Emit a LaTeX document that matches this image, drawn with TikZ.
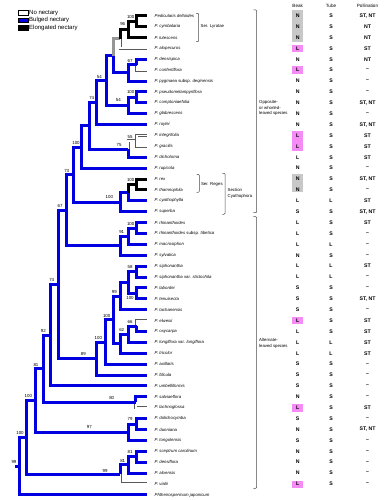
\documentclass[tikz,border=0pt]{standalone}
\usepackage{fontspec}
\setmainfont{Liberation Sans}
\usepackage{xcolor}
\usepackage{tikz}
\usetikzlibrary{positioning}

\definecolor{bulged}{RGB}{0,0,225}
\definecolor{stemgray}{RGB}{150,150,150}
\definecolor{pinkcell}{RGB}{245,140,245}
\definecolor{graycell}{RGB}{200,200,200}

\tikzset{
  br/.style={line width=3pt, bulged},
  elbr/.style={line width=3pt, black},
  grbr/.style={line width=3pt, stemgray},
  nobr/.style={draw=black!65, line width=0.55pt, double=white, double distance=1.9pt},
  taxon/.style={anchor=west, inner sep=0pt, font=\fontsize{4.3}{5}\selectfont\itshape},
  bs/.style={inner sep=0pt, font=\fontsize{4.4}{5}\selectfont},
  cell/.style={inner sep=0pt, font=\fontsize{5.2}{6}\selectfont\bfseries},
  head/.style={inner sep=0pt, font=\fontsize{4.6}{5}\selectfont},
  brk/.style={line width=0.5pt, black!70, rounded corners=1pt},
  brtext/.style={anchor=west, inner sep=0pt, align=left, font=\fontsize{4.3}{5.8}\selectfont},
  legbox/.style={draw=black, line width=0.4pt, minimum width=10pt, minimum height=4.5pt, inner sep=0pt},
  legtext/.style={anchor=west, inner sep=0.5pt, font=\fontsize{6}{7}\selectfont},
}

\begin{document}
\begin{tikzpicture}[x=1pt,y=-1pt]
    \useasboundingbox (0,0) rectangle (386,500);
    % Legend
    \node[legbox, fill=white] (lg1) at (23.3,12.8) {};
    \node[legbox, fill=bulged] (lg2) at (23.3,20.2) {};
    \node[legbox, fill=black] (lg3) at (23.3,27.6) {};
    \node[legtext, right=0pt of lg1] (lt1) {No nectary};
    \node[legtext, right=0pt of lg2] (lt2) {Bulged nectary};
    \node[legtext, right=0pt of lg3] (lt3) {Elongated nectary};
    %
    % Column heads
    \node[head] (hbeak) at (297.7,6) {Beak};
    \node[head] (htube) at (331,6) {Tube};
    \node[head] (hpoll) at (367.5,6) {Pollination};
    %
    % Shaded cells
    \fill[graycell] (291.7,10.5) rectangle (302.7,42.3);
    \fill[graycell] (291.7,174.3) rectangle (302.7,192.3);
    \fill[pinkcell] (291.7,44.7) rectangle (302.7,52.1);
    \fill[pinkcell] (291.7,66.5) rectangle (302.7,73.8);
    \fill[pinkcell] (291.7,131) rectangle (302.7,150.7);
    \fill[pinkcell] (291.7,317) rectangle (302.7,324.3);
    \fill[pinkcell] (291.7,404.3) rectangle (302.7,411.5);
    \fill[pinkcell] (291.7,480.5) rectangle (302.7,487.6);
    %
    % Taxa and characters
    \foreach \i/\name/\bk/\tb/\pl in {
      1/Pedicularis deltoides/N/S/{ST, NT},
      2/P. cymbalaria/N/S/NT,
      3/P. lutescens/N/S/NT,
      4/P. alopecuros/L/S/ST,
      5/P. densispica/N/S/NT,
      6/P. confertiflora/L/S/--,
      7/{P. pygmaea \textup{subsp.} deqinensis}/N/S/--,
      8/P. pseudomelampyriflora/N/S/--,
      9/P. comptoniaefolia/N/S/{ST, NT},
      10/P. glabrescens/N/S/--,
      11/P. roylei/N/S/{ST, NT},
      12/P. integrifolia/L/S/ST,
      13/P. gracilis/L/S/ST,
      14/P. dichotoma/L/S/ST,
      15/P. rupicola/N/S/--,
      16/P. rex/N/S/{ST, NT},
      17/P. thamnophila/N/S/--,
      18/P. cyathophylla/L/L/ST,
      19/P. superba/S/S/{ST, NT},
      20/P. rhinanthoides/L/S/ST,
      21/{P. rhinanthoides \textup{subsp.} tibetica}/L/S/--,
      22/P. macrosiphon/L/L/--,
      23/P. sylvatica/N/S/--,
      24/P. siphonantha/L/L/ST,
      25/{P. siphonantha \textup{var.} stictochila}/L/L/--,
      26/P. labordei/S/S/--,
      27/P. tenuisecta/S/S/{ST, NT},
      28/P. tachanensis/S/S/--,
      29/P. elwesii/L/S/ST,
      30/P. oxycarpa/L/S/ST,
      31/{P. longiflora \textup{var.} longiflora}/L/L/ST,
      32/P. tricolor/L/L/ST,
      33/P. axillaris/S/S/--,
      34/P. filicula/S/S/--,
      35/P. umbelliformis/S/S/--,
      36/P. salviaeflora/N/S/--,
      37/P. lachnoglossa/L/S/ST,
      38/P. dolichocymba/S/S/--,
      39/P. dunniana/N/S/{ST, NT},
      40/P. tongolensis/S/S/--,
      41/P. sceptrum carolinum/N/S/--,
      42/P. densiflora/N/S/--,
      43/P. aloensis/N/S/--,
      44/P. vialii/L/S/--}{
      \coordinate (e\i) at (147,{15.7+(\i-1)*10.89});
      \node[taxon] (t\i) at (154.5,{15.7+(\i-1)*10.89}) {\name};
      \node[cell] (k\i) at (297.7,{15.7+(\i-1)*10.89}) {\bk};
      \node[cell] (u\i) at (331,{15.7+(\i-1)*10.89}) {\tb};
      \node[cell] (p\i) at (367.5,{15.7+(\i-1)*10.89}) {\pl};
    }
    \coordinate (e45) at (147,494.9);
    \node[taxon] (t45) at (154.5,494.9) {Phtheirospermum japonicum};
    %
    % Internal nodes
    \coordinate (A) at (136.7,21.1);
    \coordinate (B) at (128.3,29.3);
    \coordinate (C) at (120,38.8);
    \coordinate (E1) at (136.7,64.7);
    \coordinate (E) at (128.3,72.9);
    \coordinate (D) at (113.3,55.9);
    \coordinate (G1) at (136.7,97.4);
    \coordinate (G) at (128.3,105.6);
    \coordinate (F) at (106.7,80.7);
    \coordinate (H) at (96.7,102.7);
    \coordinate (I1) at (136.7,140.9);
    \coordinate (I2) at (128.3,149.1);
    \coordinate (J) at (89.3,125.9);
    \coordinate (K) at (81.7,147.0);
    \coordinate (L1) at (136.7,184.5);
    \coordinate (L2) at (128.3,192.7);
    \coordinate (L3) at (120,202.2);
    \coordinate (M) at (73.3,174.6);
    \coordinate (N1) at (136.7,228.1);
    \coordinate (N2) at (128.3,236.2);
    \coordinate (N3) at (120,245.7);
    \coordinate (O) at (66,210.2);
    \coordinate (P1) at (136.7,271.6);
    \coordinate (P2) at (136.7,293.4);
    \coordinate (P3) at (128.3,282.5);
    \coordinate (P4) at (120,296.1);
    \coordinate (Q1) at (136.7,326.1);
    \coordinate (Q2) at (128.3,334.2);
    \coordinate (Q3) at (120,343.8);
    \coordinate (R) at (113.3,319.9);
    \coordinate (S) at (105,342.0);
    \coordinate (T) at (96.7,358.6);
    \coordinate (U) at (58.3,284.4);
    \coordinate (V) at (50.7,335.2);
    \coordinate (W1) at (135.7,402.3);
    \coordinate (X) at (43.3,368.8);
    \coordinate (Y1) at (136.7,424.1);
    \coordinate (Y2) at (128.3,432.3);
    \coordinate (Z) at (35,400.5);
    \coordinate (AA1) at (136.7,456.7);
    \coordinate (AA2) at (128.3,464.9);
    \coordinate (AA3) at (120,474.4);
    \coordinate (BB) at (26.7,437.5);
    \coordinate (Root) at (19.3,466.2);
    \coordinate (base) at (15,466.2);
    %
    % No nectary
    \draw[nobr] (C) |- (e4);
    \draw[nobr] (E1) |- (e6);
    \draw[nobr] (I2) |- (I1);
    \draw[nobr] (I1) |- (e12) (I1) |- (e13);
    \draw[nobr] (Q1) |- (e29);
    \draw[nobr] (W1) |- (e37);
    \draw[nobr] (AA3) |- (e44);
    %
    % Bulged nectary
    \draw[br] (D) |- (E) (E) |- (E1) (E) |- (e7) (E1) |- (e5);
    \draw[br] (F) |- (D) (F) |- (G) (G) |- (G1) (G) |- (e10) (G1) |- (e8) (G1) |- (e9);
    \draw[br] (H) |- (F) (H) |- (e11) (J) |- (H) (J) |- (I2) (I2) |- (e14);
    \draw[br] (K) |- (J) (K) |- (e15) (M) |- (K) (M) |- (L3);
    \draw[br] (L3) |- (L2) (L3) |- (e19) (L2) |- (e18);
    \draw[br] (O) |- (M) (O) |- (N3) (N3) |- (N2) (N3) |- (e23) (N2) |- (N1) (N2) |- (e22) (N1) |- (e20) (N1) |- (e21);
    \draw[br] (U) |- (O) (U) |- (T) (T) |- (S) (T) |- (e34) (S) |- (R) (S) |- (e33);
    \draw[br] (R) |- (P4) (R) |- (Q3) (P4) |- (P3) (P4) |- (e28) (P3) |- (P1) (P3) |- (P2);
    \draw[br] (P1) |- (e24) (P1) |- (e25) (P2) |- (e26) (P2) |- (e27);
    \draw[br] (Q3) |- (Q2) (Q3) |- (e32) (Q2) |- (Q1) (Q2) |- (e31) (Q1) |- (e30);
    \draw[br] (V) |- (U) (V) |- (e35) (X) |- (V) (X) |- (W1) (W1) |- (e36);
    \draw[br] (Z) |- (X) (Z) |- (Y2) (Y2) |- (Y1) (Y2) |- (e40) (Y1) |- (e38) (Y1) |- (e39);
    \draw[br] (BB) |- (Z) (BB) |- (AA3) (AA3) |- (AA2) (AA2) |- (AA1) (AA2) |- (e43) (AA1) |- (e41) (AA1) |- (e42);
    \draw[br] (Root) |- (BB) (Root) |- (e45) (base) -- (Root);
    %
    % Elongated nectary
    \draw[grbr] (D) |- (C);
    \draw[elbr] (C) |- (B) (B) |- (A) (B) |- (e3) (A) |- (e1) (A) |- (e2);
    \draw[elbr] (L2) |- (L1) (L1) |- (e16) (L1) |- (e17);
    %
    % Bootstrap values
    \foreach \n/\v/\x/\y in {A/100/130.7/16.7, B/96/122.7/24.3, E1/67/130/61,
      G1/100/130.7/91.7, G/54/118.3/100, F/54/99.3/76.7, H/74/91.7/98.3,
      I1/55/130/136.7, I2/75/119/145, K/100/76/143.3, L1/100/130.7/180,
      L3/100/109.3/196.7, M/73/66.7/170.7, N1/100/130.7/224, N2/91/121.7/231.7,
      O/67/60/206, P1/58/130/267.3, P2/100/130/298.3, P4/99/114.3/291.7,
      Q1/66/130/321.7, Q2/62/121.7/330, R/100/106.7/316, S/100/98.3/338.3,
      T/89/83.3/354.3, U/74/51.7/280, V/92/43.3/331, X/81/36/365,
      W1/80/111.7/398.3, Y1/79/130/419.3, Y2/97/89.3/427.3, Z/100/28.3/396,
      AA1/81/130/452.3, AA2/81/122.7/461, AA3/99/105/470.7, BB/100/20/433.3,
      Root/99/14/461.7}{
      \node[bs] (b\n) at (\x,\y) {\v};
    }
    %
    % Brackets
    \draw[brk] (196,13.3) -- (198.7,13.3) -- (198.7,41.7) -- (196,41.7);
    \node[brtext] (lyr) at (200.5,26.6) {Ser. Lyratae};
    \draw[brk] (196.6,174.3) -- (199.3,174.3) -- (199.3,192.3) -- (196.6,192.3);
    \node[brtext] (reg) at (200.8,184.5) {Ser. Reges};
    \draw[brk] (222.3,173.3) -- (225,173.3) -- (225,214.3) -- (222.3,214.3);
    \node[brtext] (cya) at (227.5,193) {Section\\Cyathophora};
    \draw[brk] (253.3,10) -- (256.7,10) -- (256.7,212.7) -- (253.3,212.7);
    \node[brtext] (opp) at (259,108) {Opposite-\\or whorled-\\leaved species};
    \draw[brk] (253.3,216.7) -- (256.7,216.7) -- (256.7,488.3) -- (253.3,488.3);
    \node[brtext] (alt) at (259,343.3) {Alternate-\\leaved species};
\end{tikzpicture}
\end{document}
